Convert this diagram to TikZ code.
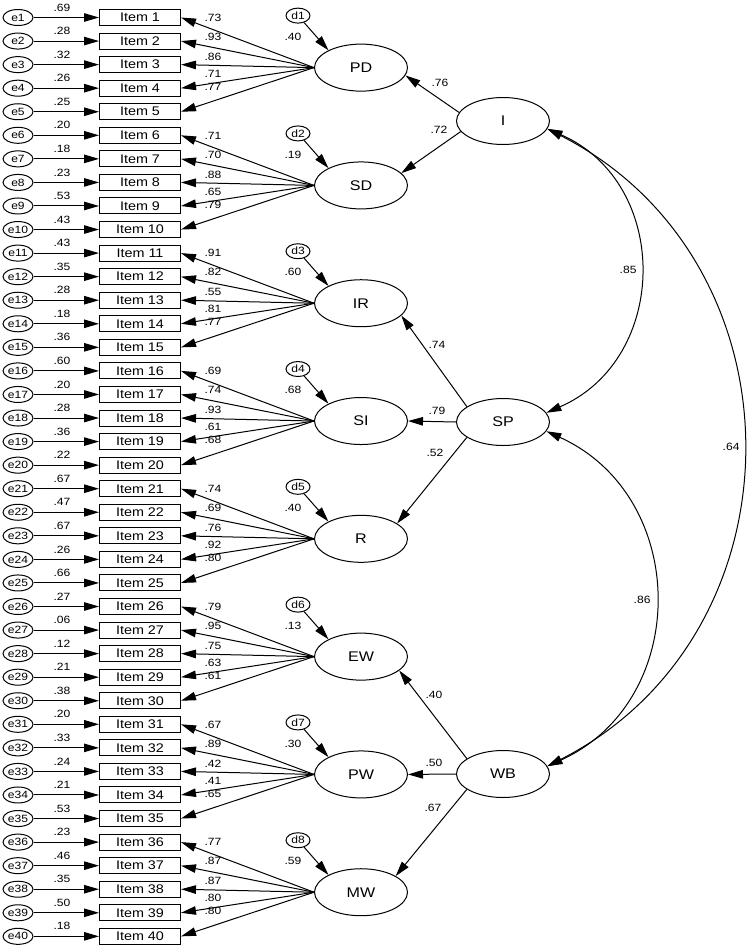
\documentclass[tikz,border=0pt]{standalone}
\usepackage{fontspec}
\setmainfont{Liberation Sans}[FakeStretch=1.15]
\usetikzlibrary{arrows.meta,shapes.geometric}
\begin{document}
\begin{tikzpicture}[x=1pt,y=-1pt,line width=1pt,
  arr/.style={-{Triangle[length=15pt,width=8.5pt]}},
  dbl/.style={{Triangle[length=15pt,width=8.5pt]}-{Triangle[length=15pt,width=8.5pt]}},
  err/.style={draw,ellipse,minimum width=30pt,minimum height=16pt,inner sep=0pt,font=\fontsize{10.5}{10.5}\selectfont},
  dis/.style={draw,ellipse,minimum width=24pt,minimum height=15pt,inner sep=0pt,font=\fontsize{10.5}{10.5}\selectfont},
  itembox/.style={draw,rectangle,minimum width=81pt,minimum height=16pt,inner sep=0pt,font=\fontsize{12.5}{12.5}\selectfont},
  fac/.style={draw,ellipse,minimum width=93pt,minimum height=47pt,inner sep=0pt,font=\fontsize{14}{14}\selectfont},
  lab/.style={inner sep=0pt,font=\fontsize{10.5}{10.5}\selectfont}]
\useasboundingbox (0,0) rectangle (752,948);
% items and errors
\foreach \k/\v in {1/.69,2/.28,3/.32,4/.26,5/.25,6/.20,7/.18,8/.23,9/.53,10/.43,
  11/.43,12/.35,13/.28,14/.18,15/.36,16/.60,17/.20,18/.28,19/.36,20/.22,
  21/.67,22/.47,23/.67,24/.26,25/.66,26/.27,27/.06,28/.12,29/.21,30/.38,
  31/.20,32/.33,33/.24,34/.21,35/.53,36/.23,37/.46,38/.35,39/.50,40/.18}{
  \pgfmathsetmacro\yy{17.5+(\k-1)*23.56}
  \node[err] (e\k) at (18,\yy) {e\k};
  \node[itembox] (it\k) at (140,\yy) {Item \k};
  \draw[arr] (e\k) -- (it\k);
  \node[lab] at (62,\yy-10) {\v};
}
% first-order factors with disturbances and loadings
\foreach \j/\n/\dv/\la/\lb/\lc/\ld/\le in {
  1/PD/.40/.73/.93/.86/.71/.77,
  2/SD/.19/.71/.70/.88/.65/.79,
  3/IR/.60/.91/.82/.55/.81/.77,
  4/SI/.68/.69/.74/.93/.61/.68,
  5/R/.40/.74/.69/.76/.92/.80,
  6/EW/.13/.79/.95/.75/.63/.61,
  7/PW/.30/.67/.89/.42/.41/.65,
  8/MW/.59/.77/.87/.87/.80/.80}{
  \pgfmathsetmacro\fy{17.5+(5*\j-3)*23.56+3}
  \node[fac] (\n) at (361,\fy) {\n};
  \node[dis] (d\j) at (298,\fy-52) {d\j};
  \draw[arr] (d\j) -- (\n.152);
  \node[lab] at (293,\fy-31) {\dv};
  \foreach \i/\l/\o in {1/\la/-50,2/\lb/-31,3/\lc/-11,4/\ld/6,5/\le/19}{
    \pgfmathtruncatemacro\k{5*(\j-1)+\i}
    \draw[arr] (\n.west) -- (it\k.east);
    \node[lab] at (213,\fy+\o) {\l};
  }
}
% second-order factors
\node[fac] (I) at (503,121) {I};
\node[fac] (SP) at (503,422) {SP};
\node[fac] (WB) at (503,774) {WB};
\draw[arr] (I.169) -- (PD.-10);
\draw[arr] (I.194) -- (SD.17);
\draw[arr] (SP.157) -- (IR.-17);
\draw[arr] (SP.180) -- (SI.0);
\draw[arr] (SP.203) -- (R.23);
\draw[arr] (WB.157) -- (EW.-20);
\draw[arr] (WB.180) -- (PW.0);
\draw[arr] (WB.203) -- (MW.25);
\node[lab] at (440,83) {.76};
\node[lab] at (439,130) {.72};
\node[lab] at (437,345) {.74};
\node[lab] at (437,411) {.79};
\node[lab] at (435,453) {.52};
\node[lab] at (434,695) {.40};
\node[lab] at (434,763) {.50};
\node[lab] at (433,808) {.67};
% covariances
\draw[dbl] (I.-10) .. controls +(-23.6:135pt) and +(23.6:135pt) .. (SP.12);
\draw[dbl] (SP.-12) .. controls +(-24.4:158pt) and +(24.4:158pt) .. (WB.10);
\draw[dbl] (I.-10) .. controls +(-27:292pt) and +(27:292pt) .. (WB.10);
\node[lab,anchor=east] at (637,270) {.85};
\node[lab,anchor=east] at (651,600) {.86};
\node[lab,anchor=east] at (740,447) {.64};
\end{tikzpicture}
\end{document}
